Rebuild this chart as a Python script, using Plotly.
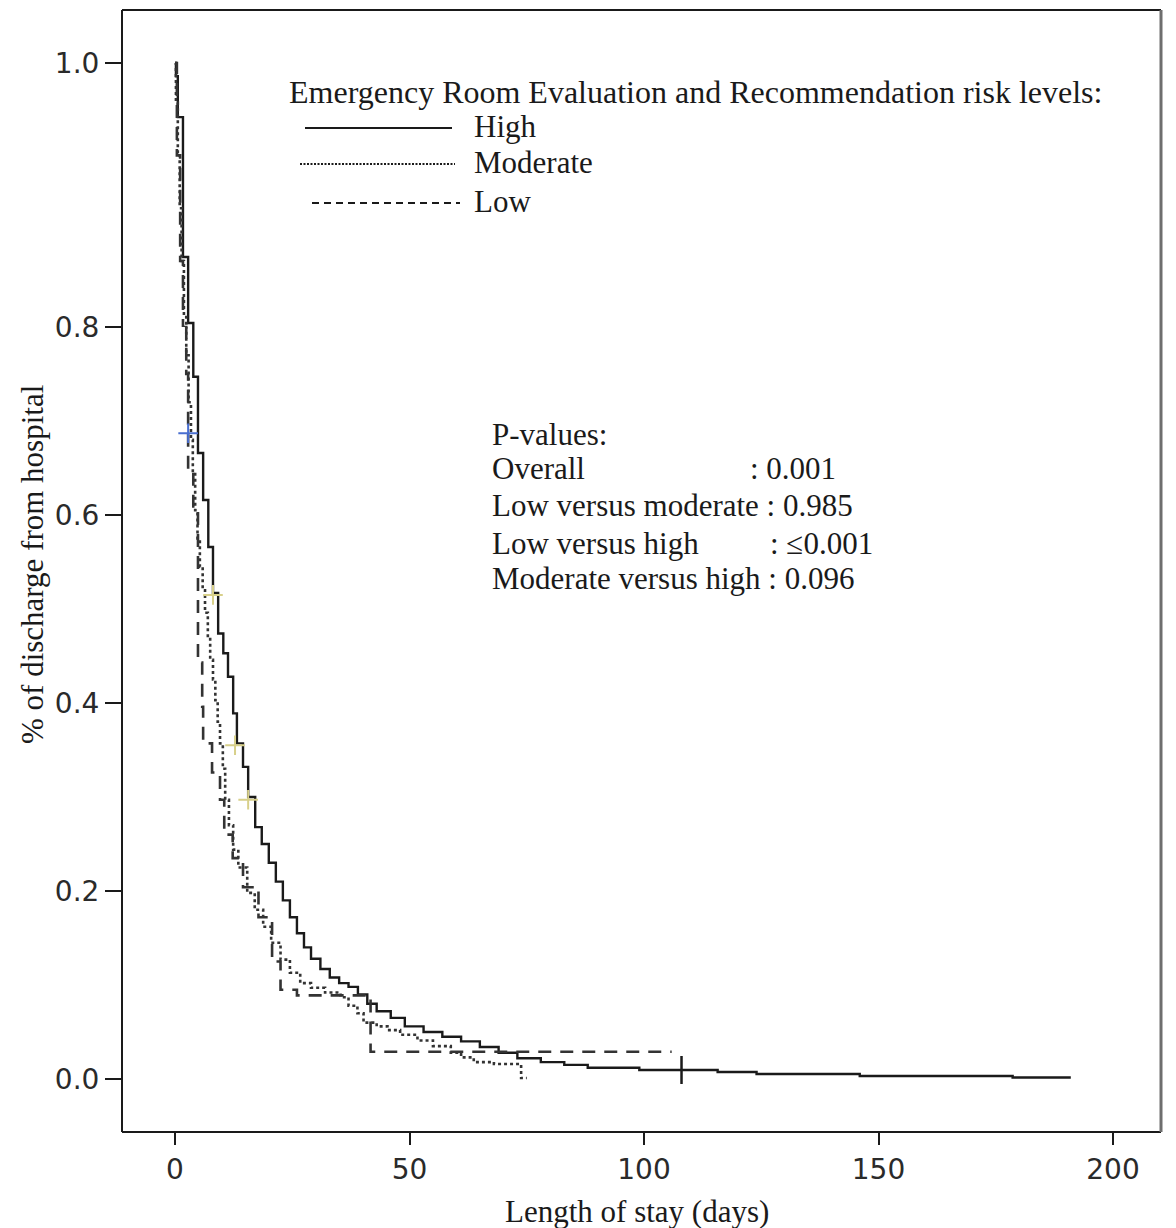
import plotly.graph_objects as go

# ---------------- data ----------------
high_days = [0, 0.2, 0.6, 1.7, 2.8, 3.9, 4.9, 6.0, 7.1, 8.1, 9.2, 10.3, 11.3, 12.4, 13.2,
             14.5, 15.6, 17.1, 18.5, 20, 21.5, 23, 24.5, 26, 27.5, 29, 31, 33, 35, 37,
             39, 41, 43, 46, 49, 53, 57, 61, 65, 69, 73, 78, 83, 88, 99, 115.7, 124,
             146, 178.6, 191]
high_surv = [1.0, 0.99, 0.959, 0.853, 0.803, 0.747, 0.666, 0.616, 0.566, 0.517, 0.474,
             0.453, 0.428, 0.389, 0.357, 0.332, 0.300, 0.268, 0.25, 0.23, 0.21, 0.19,
             0.172, 0.155, 0.14, 0.128, 0.117, 0.108, 0.102, 0.098, 0.09, 0.08, 0.072,
             0.065, 0.056, 0.05, 0.045, 0.04, 0.034, 0.028, 0.022, 0.018, 0.015, 0.012,
             0.0096, 0.0075, 0.0053, 0.0032, 0.0016, 0.0016]

moderate_days = [0, 0.2, 0.6, 1.0, 1.4, 1.9, 2.4, 2.9, 3.4, 3.8, 4.3, 4.8, 5.3, 5.9, 6.4,
                 7.0, 7.5, 8.1, 8.6, 9.1, 9.6, 10.2, 10.7, 11.5, 12.4, 13.5, 15.4, 17,
                 18.8, 20.5, 22.5, 24.5, 26.7, 29, 32, 35.3, 37, 38.9, 40.2, 43, 45.3, 48,
                 51.7, 55, 58.8, 61, 63.7, 68, 73.8, 75]
moderate_surv = [1.0, 0.97, 0.93, 0.89, 0.85, 0.81, 0.77, 0.72, 0.68, 0.645, 0.605, 0.575,
                 0.545, 0.52, 0.496, 0.47, 0.446, 0.425, 0.403, 0.38, 0.357, 0.33, 0.297,
                 0.27, 0.244, 0.225, 0.198, 0.18, 0.162, 0.145, 0.127, 0.113, 0.102, 0.097,
                 0.092, 0.087, 0.078, 0.070, 0.060, 0.056, 0.052, 0.047, 0.041, 0.035,
                 0.028, 0.023, 0.018, 0.016, 0.001, 0.001]

low_days = [0, 0.4, 1.1, 1.7, 2.4, 2.8, 3.9, 4.9, 5.8, 6.0, 7.9, 9.6, 10.5, 12.3, 14.5,
            17.8, 20.7, 22.5, 26, 41.7, 105.9]
low_surv = [1.0, 0.93, 0.85, 0.80, 0.75, 0.648, 0.609, 0.443, 0.396, 0.357, 0.326, 0.297,
            0.26, 0.235, 0.204, 0.172, 0.125, 0.095, 0.089, 0.029, 0.029]

# censored observations
censor_black_days = [108]
censor_black_surv = [0.0096]
censor_blue_days = [2.8]
censor_blue_surv = [0.687]
censor_yellow_days = [8.1, 12.8, 15.6]
censor_yellow_surv = [0.515, 0.355, 0.297]

x_ticks = [0, 50, 100, 150, 200]
x_tick_labels = ["0", "50", "100", "150", "200"]
y_ticks_lower = [0.0, 0.2, 0.4, 0.6, 0.8]
y_tick_labels_lower = ["0.0", "0.2", "0.4", "0.6", "0.8"]
y_ticks_upper = [1.0]
y_tick_labels_upper = ["1.0"]

legend_title = "Emergency Room Evaluation and Recommendation risk levels:"
series_names = ["High", "Moderate", "Low"]
pvalue_lines = ["P-values:", "Overall", "Low versus moderate : 0.985",
                "Low versus high", "Moderate versus high : 0.096"]
pvalue_right = {1: ": 0.001", 3: ": \u22640.001"}

# ---------------- layout geometry ----------------
OFF = 8                      # default page margin of the html body
W, H = 1176 - OFF, 1228 - OFF
PL, PR, PT, PB = 122, 1161, 10, 1132   # plot frame in page pixels
L, T = PL - OFF, PT - OFF
R = W - (PR - OFF)
B = H - (PB - OFF)
pw, ph = PR - PL, PB - PT
split_px = 327  # page row of the 0.8 level


def pxx(x):
    return (x - PL) / pw


def pyy(y):
    return (PB - y) / ph


split = pyy(split_px)

SERIF = "Liberation Serif, Times New Roman, serif"
SANS = "DejaVu Sans, Verdana, sans-serif"
INK = "#1a1a1a"
TXT = 31

fig = go.Figure()

styles = [
    (high_days, high_surv, dict(color=INK, width=2.4, dash="solid")),
    (moderate_days, moderate_surv, dict(color="#333333", width=2.6, dash="3px,3px")),
    (low_days, low_surv, dict(color="#333333", width=2.6, dash="13px,9px")),
]

for yref in ["y", "y2"]:
    for (d, s, ln), nm in zip(styles, series_names):
        fig.add_trace(go.Scatter(x=d, y=s, mode="lines", line=dict(shape="hv", **ln),
                                 name=nm, showlegend=False, xaxis="x", yaxis=yref,
                                 hoverinfo="skip"))

fig.add_trace(go.Scatter(x=censor_black_days, y=censor_black_surv, mode="markers",
                         marker=dict(symbol="line-ns", size=20,
                                     line=dict(color=INK, width=2.5)),
                         showlegend=False, xaxis="x", yaxis="y"))
fig.add_trace(go.Scatter(x=censor_blue_days, y=censor_blue_surv, mode="markers",
                         marker=dict(symbol="cross-thin", size=14,
                                     line=dict(color="#4a6fd0", width=2)),
                         showlegend=False, xaxis="x", yaxis="y"))
fig.add_trace(go.Scatter(x=censor_yellow_days, y=censor_yellow_surv, mode="markers",
                         marker=dict(symbol="cross-thin", size=14,
                                     line=dict(color="#d8d08a", width=2)),
                         showlegend=False, xaxis="x", yaxis="y"))

x_lo = (PL - 175) / 4.69
x_hi = (PR - 175) / 4.69
y_low_bottom = -(PB - 1079) / 940.0
y_up_top = 0.8 + (split_px - PT) / 1320.0

tickfont = dict(family=SANS, size=28, color="#2a2a2a")

fig.update_layout(
    width=W, height=H, showlegend=False,
    margin=dict(l=L, r=R, t=T, b=B, pad=0, autoexpand=False),
    paper_bgcolor="white", plot_bgcolor="white",
    xaxis=dict(range=[x_lo, x_hi], tickvals=x_ticks, ticktext=x_tick_labels,
               ticks="outside", ticklen=12, tickwidth=2, tickcolor=INK,
               showgrid=False, zeroline=False, showline=False, anchor="y",
               tickfont=tickfont, automargin=False),
    yaxis=dict(domain=[0, split], range=[y_low_bottom, 0.8], tickvals=y_ticks_lower,
               ticktext=y_tick_labels_lower, ticks="outside", ticklen=16, tickwidth=2,
               tickcolor=INK, showgrid=False, zeroline=False, showline=False,
               anchor="x", tickfont=tickfont, automargin=False),
    yaxis2=dict(domain=[split, 1], range=[0.8, y_up_top], tickvals=y_ticks_upper,
                ticktext=y_tick_labels_upper, ticks="outside", ticklen=16, tickwidth=2,
                tickcolor=INK, showgrid=False, zeroline=False, showline=False,
                anchor="x", tickfont=tickfont, automargin=False),
)

# frame
frame = [
    (0, 0, 0, 1, INK, 2),      # left
    (0, 0, 1, 0, INK, 2),      # bottom
    (0, 1, 1, 1, INK, 2),      # top
    (1, 0, 1, 1, "#6e6e6e", 3),  # right
]
for x0, y0, x1, y1, c, w in frame:
    fig.add_shape(type="line", xref="paper", yref="paper", x0=x0, y0=y0, x1=x1, y1=y1,
                  line=dict(color=c, width=w))

# legend samples
legend_rows = [
    (305, 452, 128, dict(color=INK, width=2.2, dash="solid")),
    (300, 455, 164, dict(color=INK, width=1.8, dash="2px,1.5px")),
    (312, 460, 203, dict(color=INK, width=2.0, dash="7px,5px")),
]
for (x0, x1, yy, ln), nm in zip(legend_rows, series_names):
    fig.add_shape(type="line", xref="paper", yref="paper", x0=pxx(x0), x1=pxx(x1),
                  y0=pyy(yy), y1=pyy(yy), line=ln)
    fig.add_annotation(x=pxx(472), y=pyy(yy - 2), xref="paper", yref="paper", text=nm,
                       showarrow=False, xanchor="left", yanchor="middle",
                       font=dict(family=SERIF, size=TXT, color=INK))

fig.add_annotation(x=pxx(287), y=pyy(92), xref="paper", yref="paper", text=legend_title,
                   showarrow=False, xanchor="left", yanchor="middle",
                   font=dict(family=SERIF, size=32, color=INK))

# p-values block
pv_y = [434, 469, 505, 543, 578]
for i, (txt, yy) in enumerate(zip(pvalue_lines, pv_y)):
    fig.add_annotation(x=pxx(490), y=pyy(yy), xref="paper", yref="paper", text=txt,
                       showarrow=False, xanchor="left", yanchor="middle",
                       font=dict(family=SERIF, size=TXT, color=INK))
    if i in pvalue_right:
        xr = 748 if i == 1 else 768
        fig.add_annotation(x=pxx(xr), y=pyy(yy), xref="paper", yref="paper",
                           text=pvalue_right[i], showarrow=False, xanchor="left",
                           yanchor="middle", font=dict(family=SERIF, size=TXT, color=INK))

# axis titles
fig.add_annotation(x=pxx(637), y=pyy(1211), xref="paper", yref="paper",
                   text="Length of stay (days)", showarrow=False, xanchor="center",
                   yanchor="middle", font=dict(family=SERIF, size=TXT, color=INK))
fig.add_annotation(x=pxx(32), y=pyy(565), xref="paper", yref="paper",
                   text="% of discharge from hospital", showarrow=False, textangle=-90,
                   xanchor="center", yanchor="middle",
                   font=dict(family=SERIF, size=TXT, color=INK))

fig.write_html("out.html")
